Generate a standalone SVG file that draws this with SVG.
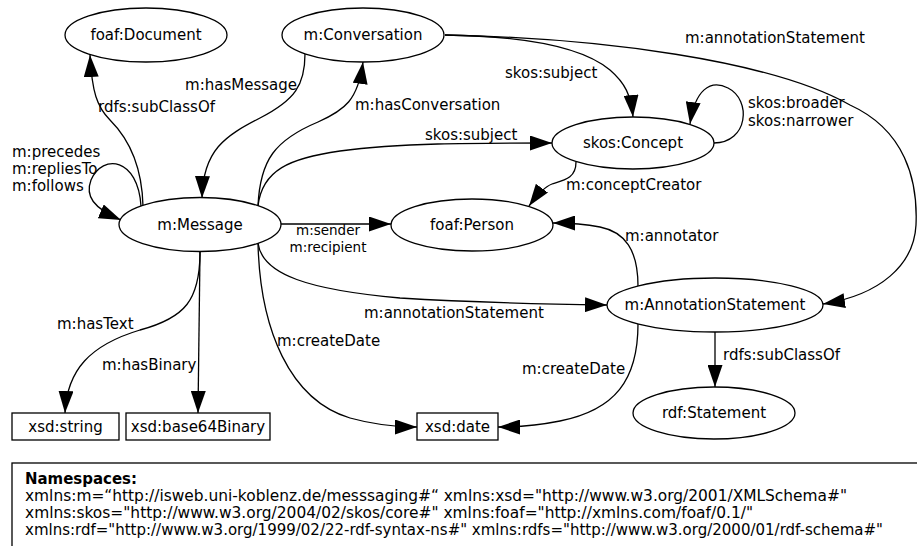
<svg xmlns="http://www.w3.org/2000/svg" width="917" height="546" viewBox="0 0 917 546">
<style>
text{font-family:"DejaVu Sans","Liberation Sans",sans-serif;font-size:15px;fill:#000}
.n ellipse,.n rect{fill:#fff;stroke:#000;stroke-width:1.3}
.n text{text-anchor:middle}
.e path{fill:none;stroke:#000;stroke-width:1.3;marker-end:url(#ah)}
.ns text{font-size:15px}
.sm{font-size:13.5px}
</style>
<defs>
<marker id="ah" viewBox="0 0 22 15" refX="22" refY="7.5" markerWidth="22" markerHeight="15" markerUnits="userSpaceOnUse" orient="auto">
<path d="M0,0 L22,7.5 L0,15 z" fill="#000"/>
</marker>
</defs>
<rect width="917" height="546" fill="#fff"/>

<g class="e" id="connectors">
<path d="M143,206 C142,165 128,138 110,120 C97,107 92,92 90,55"/>
<path d="M141,206 C138,158 103,153 91,180 C85,196 93,208 121,220"/>
<path d="M305,54 C305,85 295,100 260,118 C225,136 203,150 202,198"/>
<path d="M258,206 C260,160 275,140 318,122 C345,110 358,100 363,62"/>
<path d="M258,206 C262,170 290,158 340,151 C400,143 470,143 552,143"/>
<path d="M445,35 C520,36 580,45 610,70 C625,83 631,95 633,117"/>
<path d="M445,35 C600,38 770,60 850,105 C905,130 918,180 916,225 C914,265 880,295 823,304"/>
<path d="M714,143 C748,143 752,100 728,88 C710,79 695,90 690,124"/>
<path d="M576,162 C576,178 565,180 552,184 C544,187 537,195 529,206"/>
<path d="M281,224 L391,224"/>
<path d="M638,286 C638,250 625,232 600,227 C585,224 572,223 553,223"/>
<path d="M258,243 C262,275 310,290 400,298 C480,303 540,304 607,305"/>
<path d="M200,252 C200,300 185,318 140,330 C90,345 67,370 65,413"/>
<path d="M200,252 L198,413"/>
<path d="M258,243 C260,330 290,400 350,418 C375,425 395,427 417,427"/>
<path d="M638,324 C638,380 615,410 560,421 C535,426 515,427 498,427"/>
<path d="M715,332 L715,387"/>
</g>

<g id="edge-labels">
<text x="98" y="112">rdfs:subClassOf</text>
<text x="12" y="157">m:precedes</text>
<text x="12" y="174">m:repliesTo</text>
<text x="12" y="191">m:follows</text>
<text x="297" y="90" text-anchor="end">m:hasMessage</text>
<text x="355" y="110">m:hasConversation</text>
<text x="425" y="140">skos:subject</text>
<text x="505" y="78">skos:subject</text>
<text x="685" y="43">m:annotationStatement</text>
<text x="748" y="108">skos:broader</text>
<text x="748" y="126">skos:narrower</text>
<text x="566" y="190">m:conceptCreator</text>
<text class="sm" x="328" y="235" text-anchor="middle">m:sender</text>
<text class="sm" x="328" y="252" text-anchor="middle">m:recipient</text>
<text x="625" y="241">m:annotator</text>
<text x="364" y="318">m:annotationStatement</text>
<text x="57" y="329">m:hasText</text>
<text x="102" y="370">m:hasBinary</text>
<text x="277" y="346">m:createDate</text>
<text x="522" y="374">m:createDate</text>
<text x="723" y="360">rdfs:subClassOf</text>
</g>

<g class="n" id="foaf-Document"><ellipse cx="146" cy="35" rx="81" ry="27"/><text x="146" y="40">foaf:Document</text></g>
<g class="n" id="m-Conversation"><ellipse cx="363" cy="35" rx="81" ry="27"/><text x="363" y="40">m:Conversation</text></g>
<g class="n" id="skos-Concept"><ellipse cx="633" cy="143" rx="81" ry="26"/><text x="633" y="148">skos:Concept</text></g>
<g class="n" id="m-Message"><ellipse cx="200" cy="224.5" rx="81" ry="27"/><text x="200" y="230">m:Message</text></g>
<g class="n" id="foaf-Person"><ellipse cx="472" cy="225" rx="81" ry="26"/><text x="472" y="230">foaf:Person</text></g>
<g class="n" id="m-AnnotationStatement"><ellipse cx="715" cy="305" rx="108" ry="27"/><text x="715" y="310">m:AnnotationStatement</text></g>
<g class="n" id="rdf-Statement"><ellipse cx="714" cy="413" rx="81" ry="26"/><text x="714" y="418">rdf:Statement</text></g>
<g class="n" id="xsd-string"><rect x="12" y="413" width="107" height="27"/><text x="65.5" y="432">xsd:string</text></g>
<g class="n" id="xsd-base64Binary"><rect x="126" y="413" width="144" height="27"/><text x="198" y="432">xsd:base64Binary</text></g>
<g class="n" id="xsd-date"><rect x="417" y="413" width="81" height="27"/><text x="457.5" y="432">xsd:date</text></g>

<g class="ns" id="namespaces">
<rect x="12" y="463" width="920" height="100" fill="#fff" stroke="#000" stroke-width="1.3"/>
<text x="25" y="484" font-weight="bold" textLength="112" lengthAdjust="spacingAndGlyphs">Namespaces:</text>
<text x="25" y="501" textLength="822" lengthAdjust="spacingAndGlyphs">xmlns:m=“http://isweb.uni-koblenz.de/messsaging#“ xmlns:xsd="http://www.w3.org/2001/XMLSchema#"</text>
<text x="25" y="518" textLength="728" lengthAdjust="spacingAndGlyphs">xmlns:skos="http://www.w3.org/2004/02/skos/core#" xmlns:foaf="http://xmlns.com/foaf/0.1/"</text>
<text x="25" y="535" textLength="858" lengthAdjust="spacingAndGlyphs">xmlns:rdf="http://www.w3.org/1999/02/22-rdf-syntax-ns#" xmlns:rdfs="http://www.w3.org/2000/01/rdf-schema#"</text>
</g>
</svg>
